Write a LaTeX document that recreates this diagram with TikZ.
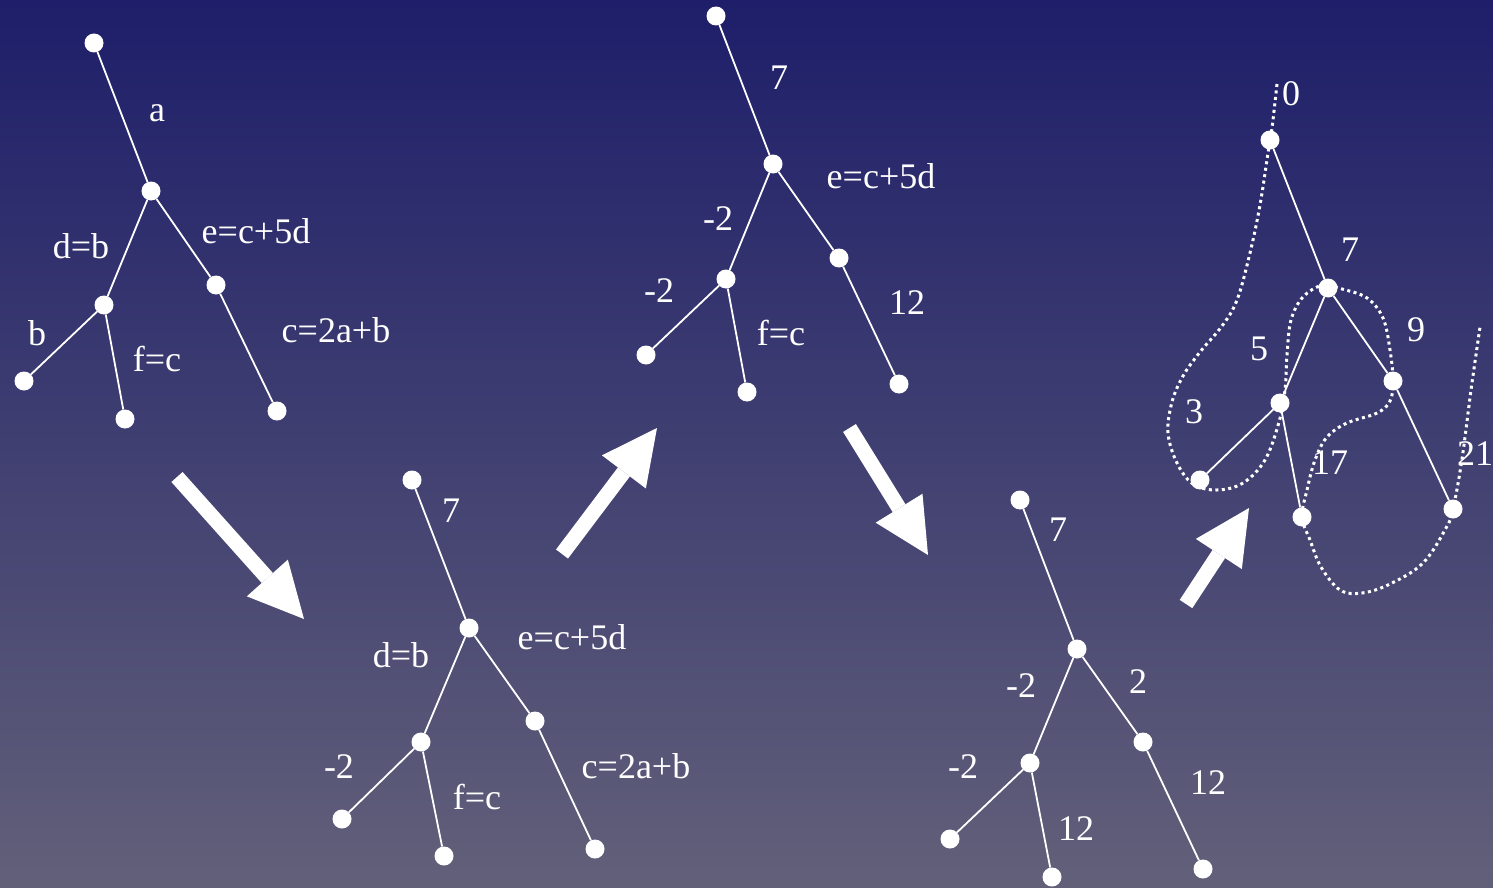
\documentclass[tikz,border=0pt]{standalone}
\usepackage{fontspec}
\setmainfont{Liberation Serif}
\usetikzlibrary{arrows.meta}
\definecolor{bgtop}{RGB}{30,30,106}
\definecolor{bgbot}{RGB}{98,96,121}
\begin{document}
\begin{tikzpicture}[x=1pt,y=-1pt,
  dot/.style={circle,fill=white,inner sep=0pt,minimum size=19pt},
  edge/.style={draw=white,line width=1.8pt},
  lbl/.style={text=white,anchor=base,inner sep=0pt,font=\fontsize{36}{40}\selectfont},
  tour/.style={draw=white,line width=3pt,dash pattern=on 3pt off 3.5pt},
  bigarrow/.style={draw=white,line width=15pt,-{Triangle[length=55pt,width=55pt,line width=0pt]}}
]
\useasboundingbox (0,0) rectangle (1493,888);
\shade[top color=bgtop,bottom color=bgbot] (0,0) rectangle (1493,888);

% ---------- dotted tour (tree 5) ----------
\draw[tour] plot[smooth,tension=0.6] coordinates {
 (1277,84) (1272,128) (1268,153) (1260,205) (1250,253) (1237,300) (1222,326)
 (1200,352) (1183,376) (1172,402) (1168,433) (1177,463) (1193,484) (1217,490)
 (1243,483) (1265,460) (1279,422) (1285,390) (1287,355) (1291,320) (1303,297)
 (1323,285) (1342,289) (1367,298) (1383,318) (1390,350) (1393,381) (1390,401)
 (1377,413) (1347,423) (1327,437) (1315,460) (1307,490) (1302,517) (1310,540)
 (1321,567) (1340,590) (1362,593) (1390,584) (1423,563) (1446,528) (1453,509)
 (1462,459) (1471,390) (1480,327)};

% ---------- tree 1 ----------
\node[dot] (t1r) at (94,43) {};
\node[dot] (t1a) at (151,191) {};
\node[dot] (t1b) at (104,305) {};
\node[dot] (t1c) at (216,285) {};
\node[dot] (t1l1) at (24,381) {};
\node[dot] (t1l2) at (125,419) {};
\node[dot] (t1l3) at (277,411) {};
\draw[edge] (t1r) -- (t1a) (t1a) -- (t1b) (t1a) -- (t1c) (t1b) -- (t1l1) (t1b) -- (t1l2) (t1c) -- (t1l3);
\node[lbl] (t1ta) at (157,122) {a};
\node[lbl] (t1td) at (81,258) {d=b};
\node[lbl] (t1te) at (256,243) {e=c+5d};
\node[lbl] (t1tb) at (37,345) {b};
\node[lbl] (t1tf) at (157,371) {f=c};
\node[lbl] (t1tc) at (336,342) {c=2a+b};

% ---------- tree 2 ----------
\node[dot] (t2r) at (412,480) {};
\node[dot] (t2a) at (469,628) {};
\node[dot] (t2b) at (421,742) {};
\node[dot] (t2c) at (535,721) {};
\node[dot] (t2l1) at (342,819) {};
\node[dot] (t2l2) at (444,856) {};
\node[dot] (t2l3) at (595,849) {};
\draw[edge] (t2r) -- (t2a) (t2a) -- (t2b) (t2a) -- (t2c) (t2b) -- (t2l1) (t2b) -- (t2l2) (t2c) -- (t2l3);
\node[lbl] (t2t7) at (451,522) {7};
\node[lbl] (t2td) at (401,667) {d=b};
\node[lbl] (t2te) at (572,649) {e=c+5d};
\node[lbl] (t2tm) at (339,778) {-2};
\node[lbl] (t2tf) at (477,809) {f=c};
\node[lbl] (t2tc) at (636,778) {c=2a+b};

% ---------- tree 3 ----------
\node[dot] (t3r) at (716,16) {};
\node[dot] (t3a) at (773,164) {};
\node[dot] (t3b) at (726,279) {};
\node[dot] (t3c) at (839,258) {};
\node[dot] (t3l1) at (646,355) {};
\node[dot] (t3l2) at (747,392) {};
\node[dot] (t3l3) at (899,384) {};
\draw[edge] (t3r) -- (t3a) (t3a) -- (t3b) (t3a) -- (t3c) (t3b) -- (t3l1) (t3b) -- (t3l2) (t3c) -- (t3l3);
\node[lbl] (t3t7) at (779,90) {7};
\node[lbl] (t3te) at (881,188) {e=c+5d};
\node[lbl] (t3tm1) at (718,230) {-2};
\node[lbl] (t3tm2) at (659,302) {-2};
\node[lbl] (t3tf) at (781,345) {f=c};
\node[lbl] (t3t12) at (907,314) {12};

% ---------- tree 4 ----------
\node[dot] (t4r) at (1020,500) {};
\node[dot] (t4a) at (1077,649) {};
\node[dot] (t4b) at (1030,763) {};
\node[dot] (t4c) at (1143,742) {};
\node[dot] (t4l1) at (950,839) {};
\node[dot] (t4l2) at (1052,877) {};
\node[dot] (t4l3) at (1203,869) {};
\draw[edge] (t4r) -- (t4a) (t4a) -- (t4b) (t4a) -- (t4c) (t4b) -- (t4l1) (t4b) -- (t4l2) (t4c) -- (t4l3);
\node[lbl] (t4t7) at (1058,541) {7};
\node[lbl] (t4tm1) at (1021,697) {-2};
\node[lbl] (t4t2) at (1138,693) {2};
\node[lbl] (t4tm2) at (963,778) {-2};
\node[lbl] (t4t12a) at (1076,840) {12};
\node[lbl] (t4t12b) at (1208,794) {12};

% ---------- tree 5 ----------
\node[dot] (t5r) at (1270,140) {};
\node[dot] (t5a) at (1328,288) {};
\node[dot] (t5b) at (1280,403) {};
\node[dot] (t5c) at (1393,381) {};
\node[dot] (t5l1) at (1200,480) {};
\node[dot] (t5l2) at (1302,517) {};
\node[dot] (t5l3) at (1453,509) {};
\draw[edge] (t5r) -- (t5a) (t5a) -- (t5b) (t5a) -- (t5c) (t5b) -- (t5l1) (t5b) -- (t5l2) (t5c) -- (t5l3);
\node[lbl] (t5t0) at (1291,106) {0};
\node[lbl] (t5t7) at (1350,261) {7};
\node[lbl] (t5t5) at (1259,360) {5};
\node[lbl] (t5t9) at (1416,341) {9};
\node[lbl] (t5t3) at (1194,423) {3};
\node[lbl] (t5t17) at (1330,474) {17};
\node[lbl] (t5t21) at (1475,465) {21};

% ---------- big arrows ----------
\coordinate (a1s) at (177,477); \coordinate (a1t) at (304,619);
\coordinate (a2s) at (562,554); \coordinate (a2t) at (657,428);
\coordinate (a3s) at (849.5,428); \coordinate (a3t) at (928,555);
\coordinate (a4s) at (1186,604); \coordinate (a4t) at (1249,508);
\draw[bigarrow] (a1s) -- (a1t);
\draw[bigarrow] (a2s) -- (a2t);
\draw[bigarrow] (a3s) -- (a3t);
\draw[bigarrow] (a4s) -- (a4t);
\end{tikzpicture}
\end{document}
